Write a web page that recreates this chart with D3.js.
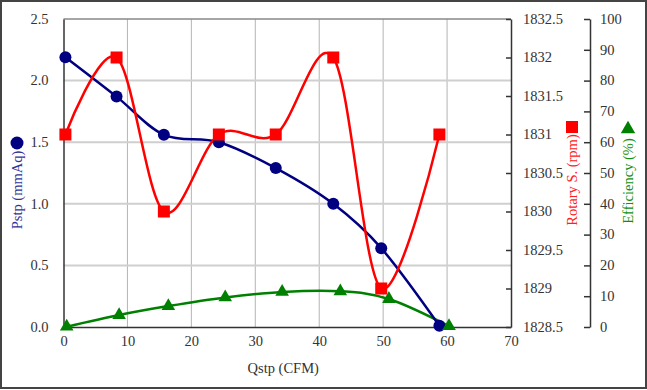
<!DOCTYPE html>
<html><head><meta charset="utf-8">
<script src="https://cdn.jsdelivr.net/npm/d3@7"></script>
</head>
<body style="margin:0;background:#fff"><svg id="c" width="647" height="390" font-family="Liberation Serif"></svg>
<script>
const qPs = [0.3, 8.3, 15.7, 24.3, 33.2, 42.2, 49.7, 58.8];
const pstp = [2.19, 1.87, 1.56, 1.50, 1.29, 1.00, 0.64, 0.01];
const rpm = [1831, 1832, 1830, 1831, 1831, 1832, 1829, 1831];
const qEff = [0.5, 8.7, 16.4, 25.3, 34.2, 43.3, 50.9, 60.3];
const eff = [0.1, 3.9, 6.8, 9.6, 11.4, 11.6, 9.1, 0.3];
const xTicks = [0,10,20,30,40,50,60,70];
const pTicks = [0,0.5,1.0,1.5,2.0,2.5];
const rTicks = [1828.5,1829,1829.5,1830,1830.5,1831,1831.5,1832,1832.5];
const eTicks = [0,10,20,30,40,50,60,70,80,90,100];

const FONT = "Liberation Serif";
const FS = 14.5;
const svg = d3.select("#c");
const L=63.5, R=511, T=19, B=327, E=590;
const x = d3.scaleLinear().domain([0,70]).range([L,R]);
const yP = d3.scaleLinear().domain([0,2.5]).range([B,T]);
const yR = d3.scaleLinear().domain([1828.5,1832.5]).range([B,T]);
const yE = d3.scaleLinear().domain([0,100]).range([B,T]);

svg.append("rect").attr("x",1).attr("y",1).attr("width",645).attr("height",387)
  .attr("fill","none").attr("stroke","#444").attr("stroke-width",2);

const g = svg.append("g");
g.selectAll(".vg").data(xTicks.filter(d=>d>0&&d<70)).enter().append("line")
  .attr("x1",d=>x(d)).attr("x2",d=>x(d)).attr("y1",T).attr("y2",B)
  .attr("stroke","#b4b4b4").attr("stroke-width",1);
g.selectAll(".hg").data(pTicks.filter(d=>d>0&&d<2.5)).enter().append("line")
  .attr("x1",L).attr("x2",R).attr("y1",d=>yP(d)).attr("y2",d=>yP(d))
  .attr("stroke","#cfcfcf").attr("stroke-width",2);
svg.append("line").attr("x1",L).attr("x2",R).attr("y1",T).attr("y2",T).attr("stroke","#888").attr("stroke-width",1.5);

function styleAxis(s){
  s.attr("font-family",FONT).attr("font-size",FS);
  s.select(".domain").attr("stroke","#333").attr("stroke-width",1.5);
  s.selectAll(".tick line").attr("stroke","#333").attr("stroke-width",1.5);
  s.selectAll("text").attr("fill","#333").attr("font-family",FONT).attr("font-size",FS);
}
const xa = svg.append("g").attr("transform",`translate(0,${B})`)
  .call(d3.axisBottom(x).tickValues(xTicks).tickSize(0).tickPadding(9).tickFormat(d3.format("d")));
styleAxis(xa);
const ya = svg.append("g").attr("transform",`translate(${L},0)`)
  .call(d3.axisLeft(yP).tickValues(pTicks).tickSize(0).tickPadding(15).tickFormat(d3.format(".1f")));
styleAxis(ya); ya.selectAll("text").attr("dy","0.3em");
const ra = svg.append("g").attr("transform",`translate(${R},0)`)
  .call(d3.axisRight(yR).tickValues(rTicks).tickSizeInner(-5).tickSizeOuter(0).tickPadding(12).tickFormat(d=>String(d)));
styleAxis(ra); ra.selectAll("text").attr("dy","0.3em");
const ea = svg.append("g").attr("transform",`translate(${E},0)`)
  .call(d3.axisRight(yE).tickValues(eTicks).tickSizeInner(-6).tickSizeOuter(0).tickPadding(10).tickFormat(d3.format("d")));
styleAxis(ea); ea.selectAll("text").attr("dy","0.3em");

const title = (sel)=>sel.attr("font-family",FONT).attr("font-size",FS);
title(svg.append("text").attr("x",x(35)-4).attr("y",373).attr("text-anchor","middle")
  .attr("fill","#333").text("Qstp (CFM)"));
title(svg.append("text").attr("transform","translate(22,190) rotate(-90)").attr("text-anchor","middle")
  .attr("fill","#333399").text("Pstp (mmAq)"));
svg.append("circle").attr("cx",17).attr("cy",143).attr("r",6.5).attr("fill","#000080");
title(svg.append("text").attr("transform","translate(577,180) rotate(-90)").attr("text-anchor","middle")
  .attr("fill","#ff2020").text("Rotary S. (rpm)"));
svg.append("rect").attr("x",566).attr("y",121).attr("width",12).attr("height",12).attr("fill","#ff0000");
title(svg.append("text").attr("transform","translate(633,181) rotate(-90)").attr("text-anchor","middle")
  .attr("fill","#109010").text("Efficiency (%)"));
svg.append("path").attr("d",d3.symbol(d3.symbolTriangle,90)()).attr("transform","translate(628,129)").attr("fill","#008000");

const curve = d3.curveCardinal.tension(0);
const ps = qPs.map((q,i)=>[x(q),yP(pstp[i])]);
const rs = qPs.map((q,i)=>[x(q),yR(rpm[i])]);
const es = qEff.map((q,i)=>[x(q),yE(eff[i])]);
const ln = d3.line().curve(curve);

svg.append("path").attr("d",ln(es)).attr("fill","none").attr("stroke","#008000").attr("stroke-width",2.5);
svg.append("path").attr("d",ln(ps)).attr("fill","none").attr("stroke","#000080").attr("stroke-width",2.5);
svg.append("path").attr("d",ln(rs)).attr("fill","none").attr("stroke","#ff0000").attr("stroke-width",2.5);

svg.selectAll(".pc").data(ps).enter().append("circle").attr("cx",d=>d[0]).attr("cy",d=>d[1]).attr("r",6).attr("fill","#000080");
svg.selectAll(".es").data(es).enter().append("path").attr("d",d3.symbol(d3.symbolTriangle,80)())
  .attr("transform",d=>`translate(${d[0]},${d[1]})`).attr("fill","#008000");
svg.selectAll(".rs").data(rs).enter().append("rect").attr("x",d=>d[0]-6).attr("y",d=>d[1]-6)
  .attr("width",12).attr("height",12).attr("fill","#ff0000");
</script></body></html>
